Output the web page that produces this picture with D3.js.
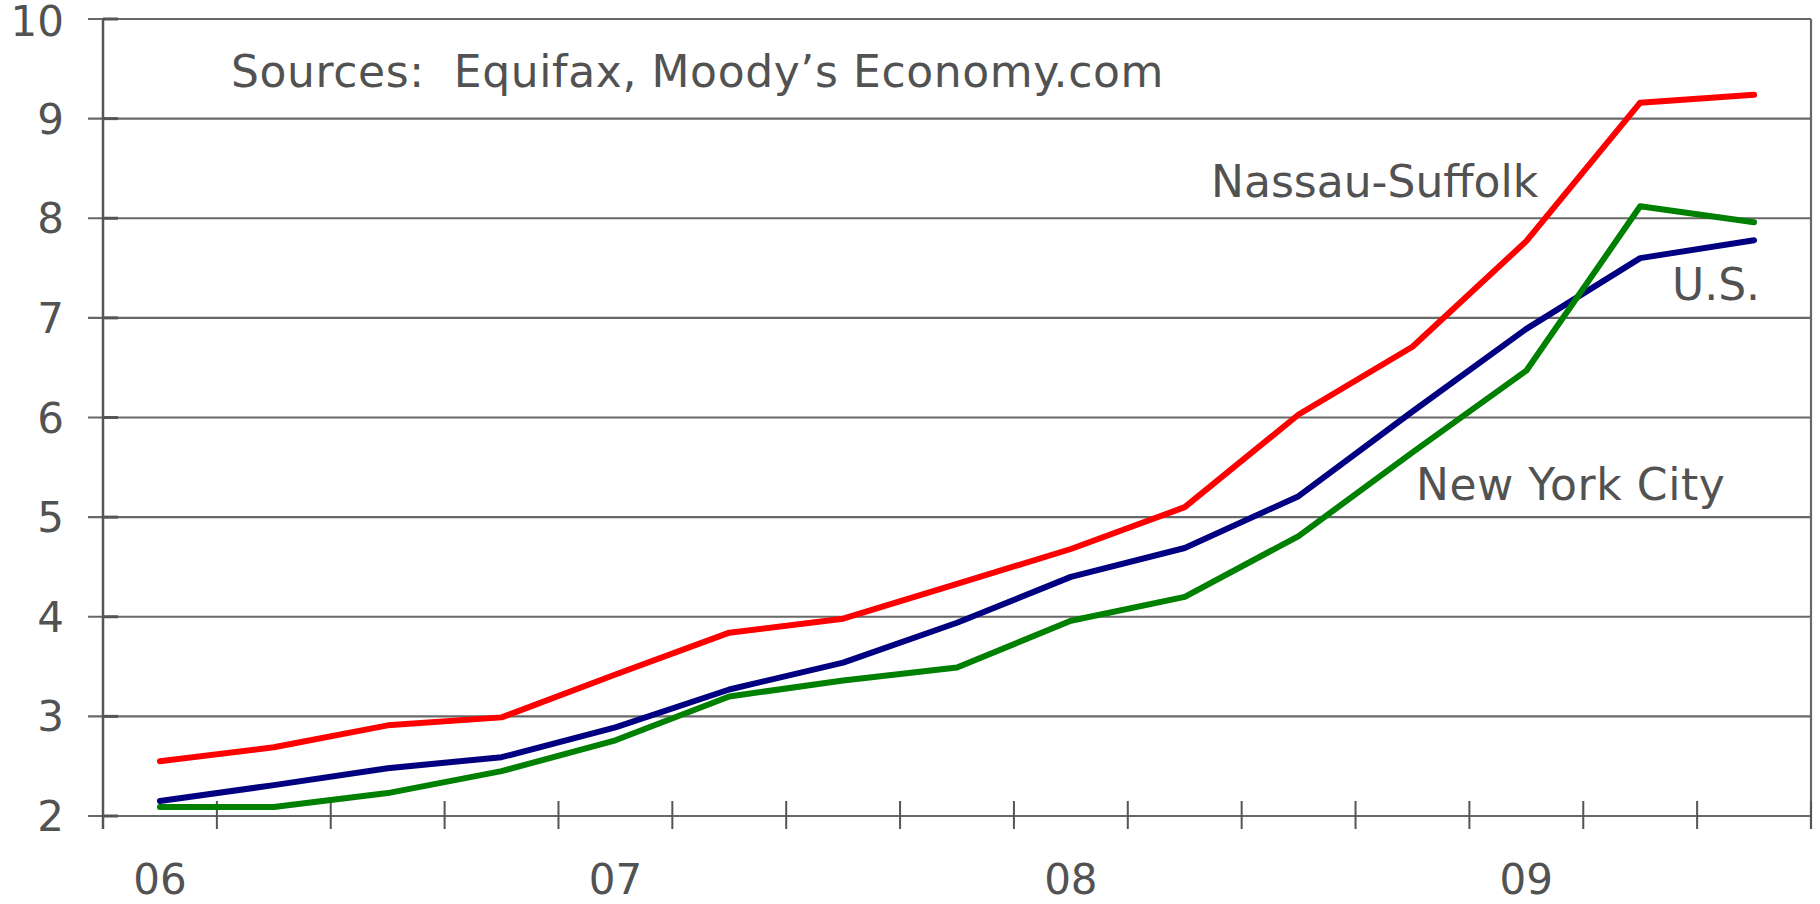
<!DOCTYPE html>
<html>
<head>
<meta charset="utf-8">
<script src="https://d3js.org/d3.v7.min.js"></script>
<style>
  body { margin: 0; background: #fff; }
  svg text { font-family: "DejaVu Sans", sans-serif; fill: #525252; }
</style>
</head>
<body>
<svg id="chart" width="1820" height="904"></svg>
<script>
// quarterly data, 2006Q1 .. 2009Q3
const quarters = ["06Q1","06Q2","06Q3","06Q4","07Q1","07Q2","07Q3","07Q4",
                  "08Q1","08Q2","08Q3","08Q4","09Q1","09Q2","09Q3"];
const nassauSuffolk = [2.55, 2.69, 2.91, 2.99, 3.42, 3.84, 3.98, 4.33, 4.68, 5.10, 6.03, 6.71, 7.77, 9.16, 9.24];
const usTotal       = [2.15, 2.31, 2.48, 2.59, 2.89, 3.27, 3.54, 3.94, 4.40, 4.69, 5.21, 6.06, 6.89, 7.60, 7.78];
const newYorkCity   = [2.09, 2.09, 2.23, 2.45, 2.76, 3.20, 3.36, 3.49, 3.96, 4.20, 4.81, 5.65, 6.47, 8.12, 7.96];
const yTicks = [2, 3, 4, 5, 6, 7, 8, 9, 10];
const xLabelQuarters = ["06Q1", "07Q1", "08Q1", "09Q1"];
const xLabels = ["06", "07", "08", "09"];

const mgLeft = 103, mgRight = 1811, mgTop = 19, mgBottom = 816;
const svg = d3.select("#chart");

const x = d3.scaleBand().domain(quarters).range([mgLeft, mgRight]).padding(0);
const y = d3.scaleLinear().domain([2, 10]).range([mgBottom, mgTop]);
const cx = q => x(q) + x.bandwidth() / 2;

// gridlines
svg.append("g")
  .selectAll("line")
  .data(yTicks)
  .enter()
  .append("line")
  .attr("x1", mgLeft - 15)
  .attr("x2", mgRight)
  .attr("y1", d => y(d))
  .attr("y2", d => y(d))
  .attr("stroke", "#686868")
  .attr("stroke-width", 2.2);

// inner y ticks
svg.append("g")
  .selectAll("line")
  .data(yTicks)
  .enter()
  .append("line")
  .attr("x1", mgLeft)
  .attr("x2", mgLeft + 15)
  .attr("y1", d => y(d))
  .attr("y2", d => y(d))
  .attr("stroke", "#555")
  .attr("stroke-width", 3);

// y tick labels
svg.append("g")
  .selectAll("text")
  .data(yTicks)
  .enter()
  .append("text")
  .attr("x", 64)
  .attr("y", d => d === 10 ? y(d) + 2 : y(d))
  .attr("dy", "0.36em")
  .attr("text-anchor", "end")
  .style("font-size", "42px")
  .text(d => d);

// left axis and right border
svg.append("line")
  .attr("x1", mgLeft).attr("x2", mgLeft)
  .attr("y1", mgTop).attr("y2", mgBottom + 13)
  .attr("stroke", "#555").attr("stroke-width", 2.5);
svg.append("line")
  .attr("x1", mgRight).attr("x2", mgRight)
  .attr("y1", mgTop).attr("y2", mgBottom + 13)
  .attr("stroke", "#686868").attr("stroke-width", 2.2);

// x ticks at quarter boundaries
const bounds = quarters.map(q => x(q)).concat([x.range()[1]]);
svg.append("g")
  .selectAll("line")
  .data(bounds)
  .enter()
  .append("line")
  .attr("x1", d => d).attr("x2", d => d)
  .attr("y1", mgBottom - 15).attr("y2", mgBottom + 13)
  .attr("stroke", "#555").attr("stroke-width", 2);

// x labels (year, at Q1)
svg.append("g")
  .selectAll("text")
  .data(xLabelQuarters)
  .enter()
  .append("text")
  .attr("x", d => cx(d))
  .attr("y", 894)
  .attr("text-anchor", "middle")
  .style("font-size", "42px")
  .text((d, i) => xLabels[i]);

// series lines
const series = [
  {name: "U.S.", values: usTotal, color: "#000080"},
  {name: "New York City", values: newYorkCity, color: "#008000"},
  {name: "Nassau-Suffolk", values: nassauSuffolk, color: "#ff0000"}
];
const line = d3.line()
  .x((d, i) => cx(quarters[i]))
  .y(d => y(d));

svg.append("g")
  .selectAll("path")
  .data(series)
  .enter()
  .append("path")
  .attr("d", d => line(d.values))
  .attr("fill", "none")
  .attr("stroke", d => d.color)
  .attr("stroke-width", 6)
  .attr("stroke-linejoin", "round")
  .attr("stroke-linecap", "round");

// annotations
svg.append("text").attr("x", 231).attr("y", 87)
  .style("font-size", "44px")
  .style("white-space", "pre")
  .style("letter-spacing", "0.6px")
  .text("Sources:  Equifax, Moody\u2019s Economy.com");
svg.append("text").attr("x", 1211).attr("y", 197)
  .style("font-size", "44px").text("Nassau-Suffolk");
svg.append("text").attr("x", 1672).attr("y", 300)
  .style("font-size", "44px").text("U.S.");
svg.append("text").attr("x", 1416).attr("y", 500)
  .style("font-size", "44px")
  .style("letter-spacing", "0.6px")
  .text("New York City");
</script>
</body>
</html>
